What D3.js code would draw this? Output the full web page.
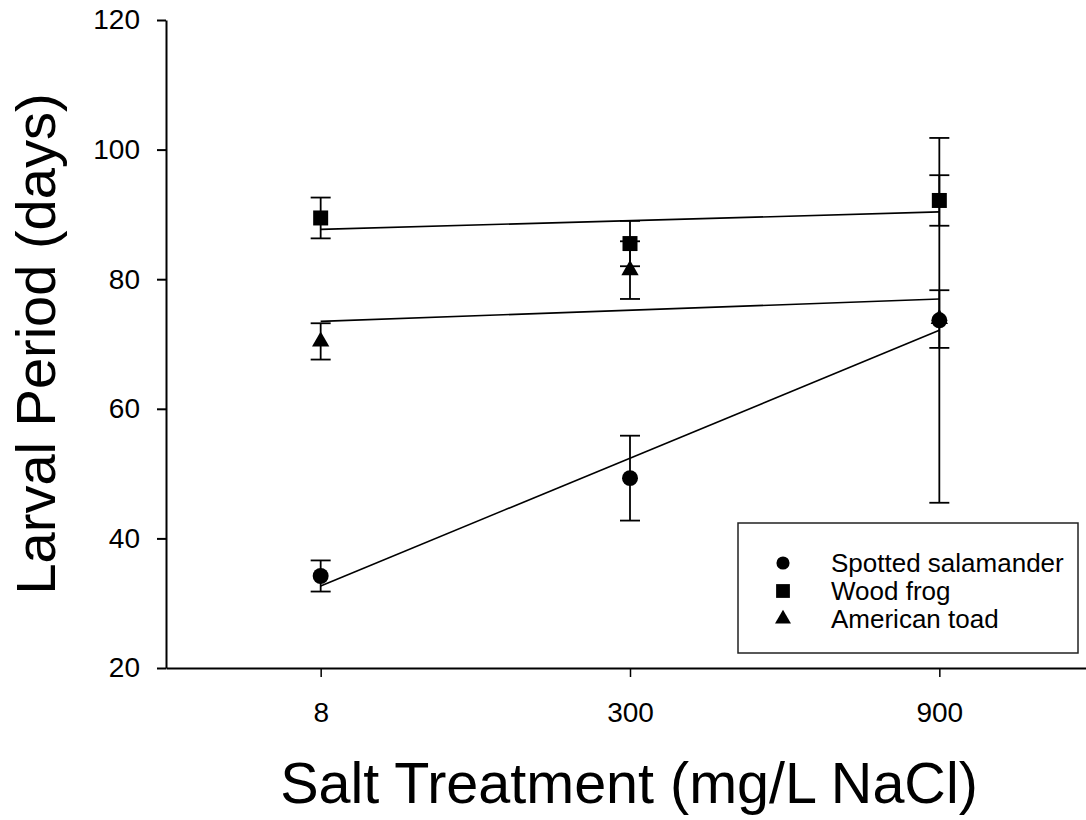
<!DOCTYPE html>
<html>
<head>
<meta charset="utf-8">
<script src="https://cdn.jsdelivr.net/npm/d3@7"></script>
<style>
    body { margin: 0; background: #fff; }
    svg { display: block; font-family: "Liberation Sans", Arial, sans-serif; }
</style>
</head>
<body>
<div id="chart"></div>
<script>
const width = 1086;
const height = 820;

// values (means and error bars)
const treatments = ["8", "300", "900"];
const seriesNames = ["Spotted salamander", "Wood frog", "American toad"];
const salamanderMean = [34.2, 49.3, 73.65];
const salamanderErr = [2.4, 6.55, 28.15];
const woodFrogMean = [89.45, 85.5, 92.15];
const woodFrogErr = [3.15, 3.5, 3.9];
const toadMean = [70.4, 81.4, 73.85];
const toadErr = [2.8, 4.45, 4.45];
const yTicks = [20, 40, 60, 80, 100, 120];

const series = [
    { name: seriesNames[0], mean: salamanderMean, err: salamanderErr, symbol: d3.symbolCircle, size: 200, legendSize: 135 },
    { name: seriesNames[1], mean: woodFrogMean, err: woodFrogErr, symbol: d3.symbolSquare, size: 225, legendSize: 190 },
    { name: seriesNames[2], mean: toadMean, err: toadErr, symbol: d3.symbolTriangle, size: 130, legendSize: 110 }
];

const svg = d3.select("#chart")
    .append("svg")
    .attr("width", width)
    .attr("height", height);

const x = d3.scalePoint().domain(treatments).range([166, 1094]).padding(0.5);
const y = d3.scaleLinear().domain([20, 120]).range([668, 20]);

// axes
const yAxis = svg.append("g")
    .attr("transform", "translate(166,0)")
    .call(d3.axisLeft(y).tickValues(yTicks).tickSize(9).tickSizeOuter(0).tickPadding(17));
yAxis.select(".domain").attr("stroke-width", 2);
yAxis.selectAll(".tick line").attr("stroke-width", 2);
yAxis.selectAll(".tick text").style("font-size", "28px").attr("fill", "#000");

const xAxis = svg.append("g")
    .attr("transform", "translate(0,668)")
    .call(d3.axisBottom(x).tickSize(9).tickSizeOuter(0));
xAxis.select(".domain").attr("stroke-width", 2);
xAxis.selectAll(".tick line").attr("stroke-width", 1.5);
xAxis.selectAll(".tick text")
    .attr("y", 54)
    .attr("dy", null)
    .style("font-size", "28px")
    .attr("fill", "#000");

// axis titles
svg.append("text")
    .attr("x", 629)
    .attr("y", 803)
    .attr("text-anchor", "middle")
    .style("font-size", "57.5px")
    .text("Salt Treatment (mg/L NaCl)");

svg.append("text")
    .attr("transform", "translate(55,344) rotate(-90)")
    .attr("text-anchor", "middle")
    .style("font-size", "56px")
    .text("Larval Period (days)");

// simple least squares fit over the treatment positions
function fitLine(values) {
    const idx = values.map((v, i) => i);
    const mx = d3.mean(idx), my = d3.mean(values);
    const slope = d3.sum(idx, i => (i - mx) * (values[i] - my)) / d3.sum(idx, i => (i - mx) * (i - mx));
    return idx.map(i => my + slope * (i - mx));
}

const plot = svg.append("g");

series.forEach(s => {
    const fitted = fitLine(s.mean);
    plot.append("line")
        .attr("x1", x(treatments[0]))
        .attr("y1", y(fitted[0]))
        .attr("x2", x(treatments[treatments.length - 1]))
        .attr("y2", y(fitted[fitted.length - 1]))
        .attr("stroke", "#000")
        .attr("stroke-width", 1.6);
});

series.forEach(s => {
    const pts = treatments.map((t, i) => ({ t: t, m: s.mean[i], e: s.err[i] }));
    const g = plot.append("g");

    g.selectAll(".bar").data(pts).enter().append("line")
        .attr("x1", d => x(d.t)).attr("x2", d => x(d.t))
        .attr("y1", d => y(d.m + d.e)).attr("y2", d => y(d.m - d.e))
        .attr("stroke", "#000").attr("stroke-width", 1.8);

    [1, -1].forEach(sign => {
        g.selectAll(".cap" + sign).data(pts).enter().append("line")
            .attr("x1", d => x(d.t) - 10).attr("x2", d => x(d.t) + 10)
            .attr("y1", d => y(d.m + sign * d.e)).attr("y2", d => y(d.m + sign * d.e))
            .attr("stroke", "#000").attr("stroke-width", 1.8);
    });

    g.selectAll(".pt").data(pts).enter().append("path")
        .attr("transform", d => `translate(${x(d.t)},${y(d.m)})`)
        .attr("d", d3.symbol().type(s.symbol).size(s.size))
        .attr("fill", "#000");
});

// legend
const legend = svg.append("g");
legend.append("rect")
    .attr("x", 738).attr("y", 523)
    .attr("width", 340).attr("height", 130)
    .attr("fill", "#fff")
    .attr("stroke", "#222")
    .attr("stroke-width", 1.5);

series.forEach((s, i) => {
    const ly = 563 + i * 28;
    legend.append("path")
        .attr("transform", `translate(783,${ly})`)
        .attr("d", d3.symbol().type(s.symbol).size(s.legendSize))
        .attr("fill", "#000");
    legend.append("text")
        .attr("x", 831)
        .attr("y", ly + 9)
        .style("font-size", "26px")
        .text(s.name);
});
</script>
</body>
</html>
